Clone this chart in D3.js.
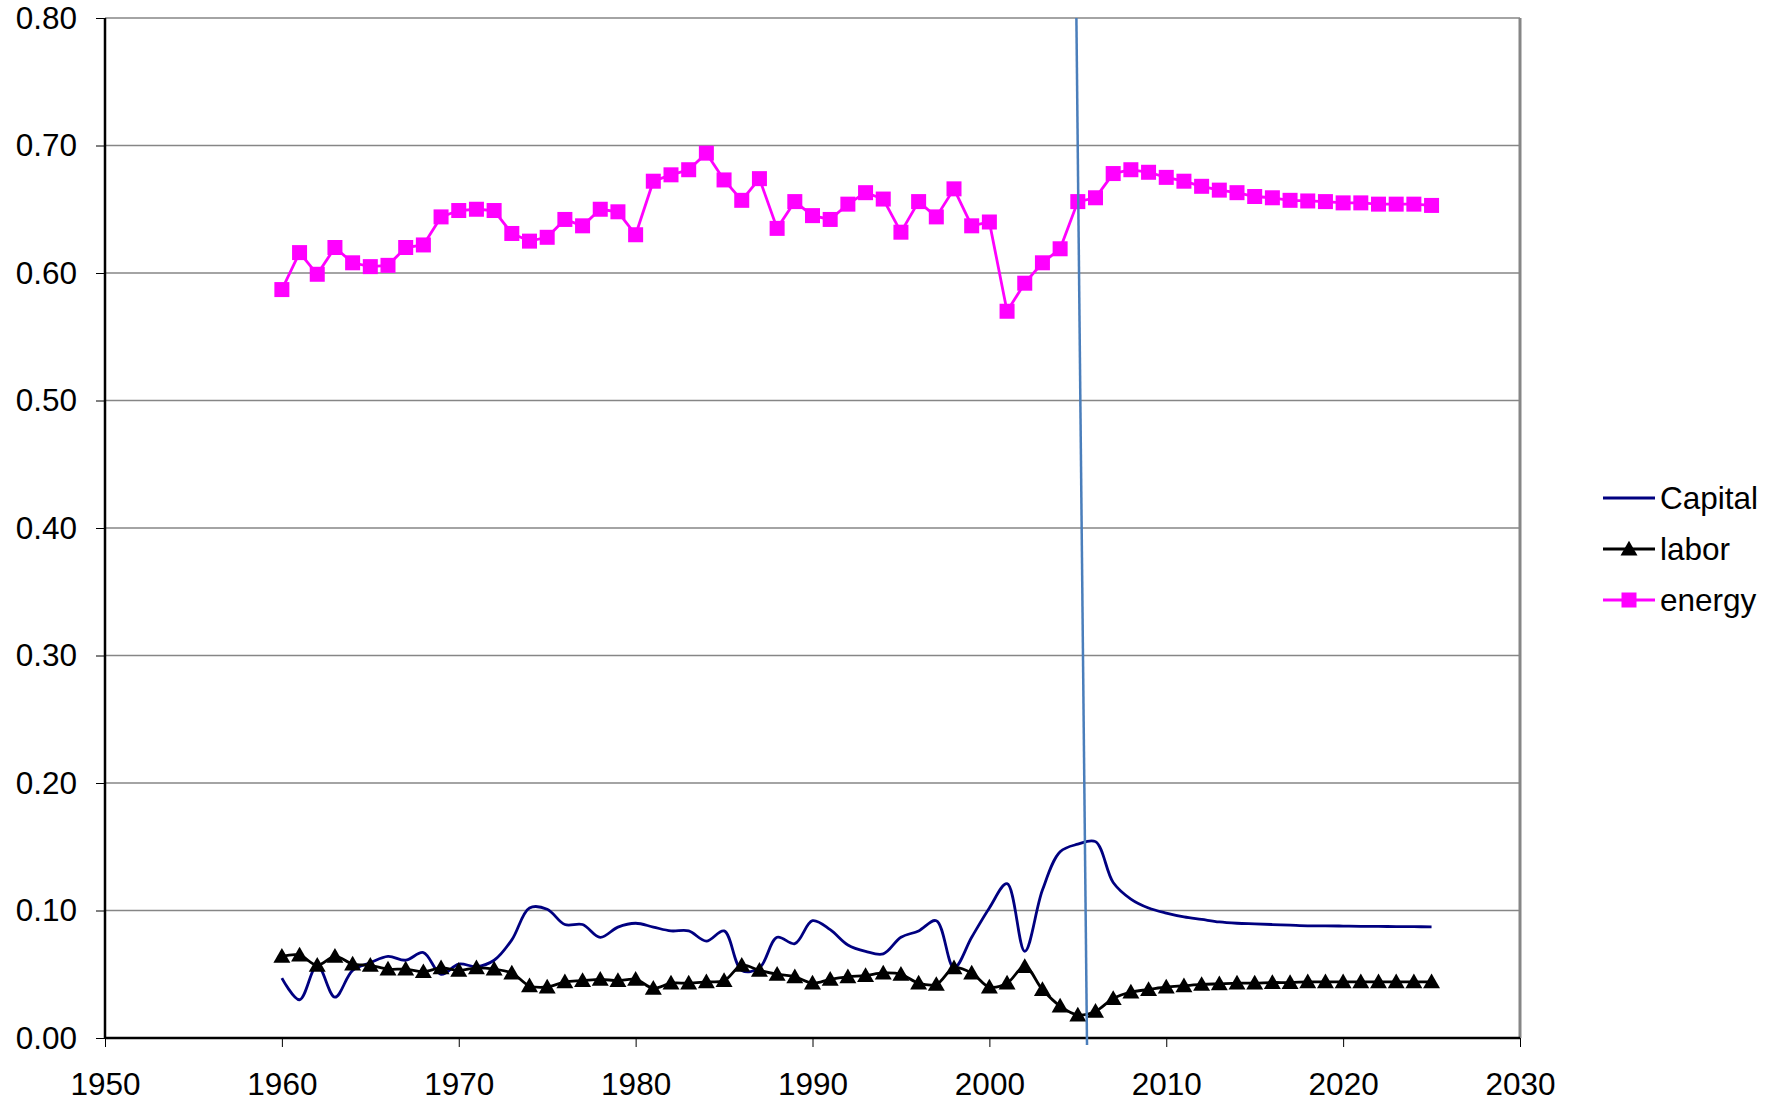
<html>
<head>
<meta charset="utf-8">
<title>Capital / labor / energy</title>
<style>
  body { margin: 0; background: #fff; }
  svg text { font-family: Arial, 'Liberation Sans', sans-serif; fill: #000; }
</style>
</head>
<body>
<div id="chart"></div>
<script src="https://cdn.jsdelivr.net/npm/d3@7"></script>
<script>
  // data
  const years = d3.range(1960, 2026)
  const capital = [0.047, 0.030, 0.057, 0.032, 0.053, 0.059, 0.064, 0.061, 0.067, 0.050,
    0.058, 0.056, 0.061, 0.077, 0.102, 0.101, 0.089, 0.089, 0.079, 0.087,
    0.090, 0.087, 0.084, 0.084, 0.076, 0.084, 0.053, 0.055, 0.079, 0.074,
    0.092, 0.085, 0.073, 0.068, 0.066, 0.079, 0.084, 0.092, 0.055, 0.079,
    0.102, 0.121, 0.068, 0.116, 0.146, 0.152, 0.154, 0.122, 0.109, 0.102,
    0.098, 0.095, 0.093, 0.091, 0.090, 0.0895, 0.089, 0.0885, 0.088, 0.088,
    0.0878, 0.0876, 0.0875, 0.0874, 0.0873, 0.0872]
  const labor = [0.064, 0.065, 0.057, 0.064, 0.058, 0.057, 0.054, 0.054, 0.052, 0.055,
    0.053, 0.055, 0.054, 0.051, 0.041, 0.040, 0.044, 0.045, 0.046, 0.045,
    0.046, 0.039, 0.043, 0.043, 0.044, 0.045, 0.057, 0.053, 0.050, 0.048,
    0.043, 0.046, 0.048, 0.049, 0.051, 0.050, 0.043, 0.042, 0.055, 0.051,
    0.040, 0.043, 0.056, 0.038, 0.025, 0.018, 0.021, 0.031, 0.036, 0.038,
    0.040, 0.041, 0.042, 0.0425, 0.043, 0.043, 0.0435, 0.0435, 0.044, 0.044,
    0.044, 0.044, 0.044, 0.044, 0.044, 0.044]
  const energy = [0.587, 0.616, 0.599, 0.620, 0.608, 0.605, 0.606, 0.620, 0.622, 0.644,
    0.649, 0.650, 0.649, 0.631, 0.625, 0.628, 0.642, 0.637, 0.650, 0.648,
    0.630, 0.672, 0.677, 0.681, 0.694, 0.673, 0.657, 0.674, 0.635, 0.656,
    0.645, 0.642, 0.654, 0.663, 0.658, 0.632, 0.656, 0.644, 0.666, 0.637,
    0.640, 0.570, 0.592, 0.608, 0.619, 0.656, 0.659, 0.678, 0.681, 0.679,
    0.675, 0.672, 0.668, 0.665, 0.663, 0.660, 0.659, 0.657, 0.6565, 0.656,
    0.655, 0.655, 0.654, 0.654, 0.654, 0.653]
  // hand-drawn marker line near 2005
  const cutYears = [2004.92, 2005.52]
  const cutValues = [0.80, -0.0055]

  const xTicks = d3.range(1950, 2031, 10)
  const yTicks = d3.range(0, 0.81, 0.1)
  const seriesNames = ["Capital", "labor", "energy"]

  //設定
  const W = 1782, H = 1105
  const margin = { left: 105, top: 18, right: 262, bottom: 67 }
  const x = d3.scaleLinear().domain([1950, 2030]).range([margin.left, W - margin.right])
  const y = d3.scaleLinear().domain([0, 0.8]).range([H - margin.bottom, margin.top])
  const fontSize = "31.5px"

  const svg = d3.select("#chart").append("svg")
    .attr("width", W)
    .attr("height", H)
  svg.append("rect").attr("width", W).attr("height", H).attr("fill", "#fff")

  //grid
  svg.append("g").selectAll("line").data(yTicks.slice(1)).join("line")
    .attr("x1", x(1950)).attr("x2", x(2030))
    .attr("y1", d => y(d)).attr("y2", d => y(d))
    .attr("stroke", "#868686").attr("stroke-width", 1.5)
  // right border
  svg.append("line")
    .attr("x1", x(2030)).attr("x2", x(2030))
    .attr("y1", y(0.8)).attr("y2", y(0))
    .attr("stroke", "#868686").attr("stroke-width", 3)

  //axes
  const yAxis = svg.append("g")
    .attr("transform", `translate(${x(1950)},0)`)
    .call(d3.axisLeft(y).tickValues(yTicks).tickFormat(d3.format(".2f")).tickSize(9).tickPadding(19))
  const xAxis = svg.append("g")
    .attr("transform", `translate(0,${y(0)})`)
    .call(d3.axisBottom(x).tickValues(xTicks).tickFormat(d3.format("d")).tickSize(9).tickPadding(26))
  for (const ax of [xAxis, yAxis]) {
    ax.select(".domain").attr("stroke", "#000").attr("stroke-width", 2.5)
    ax.selectAll(".tick line").attr("stroke", "#000").attr("stroke-width", 1)
    ax.selectAll("text").attr("font-size", fontSize).attr("font-family", "Arial, 'Liberation Sans', sans-serif").attr("fill", "#000")
  }
  xAxis.select(".domain").attr("d", `M${x(1950)},0H${x(2030)}`)
  yAxis.select(".domain").attr("d", `M0,${y(0.8)}V${y(0)}`)

  //lines
  const smooth = d3.line().x((d, i) => x(years[i])).y(d => y(d)).curve(d3.curveCatmullRom.alpha(0.5))
  const straight = d3.line().x((d, i) => x(years[i])).y(d => y(d))

  svg.append("path").datum(capital)
    .attr("d", smooth).attr("fill", "none")
    .attr("stroke", "#000080").attr("stroke-width", 2.8)

  svg.append("path").datum(labor)
    .attr("d", smooth).attr("fill", "none")
    .attr("stroke", "#000").attr("stroke-width", 2.8)
  const tri = d3.symbol().type(d3.symbolTriangle).size(125)
  svg.append("g").selectAll("path").data(labor).join("path")
    .attr("d", tri)
    .attr("transform", (d, i) => `translate(${x(years[i])},${y(d) + 1.5})`)
    .attr("fill", "#000")

  svg.append("path").datum(energy)
    .attr("d", straight).attr("fill", "none")
    .attr("stroke", "#ff00ff").attr("stroke-width", 2.8)
  svg.append("g").selectAll("rect").data(energy).join("rect")
    .attr("x", (d, i) => x(years[i]) - 7.5)
    .attr("y", d => y(d) - 7.5)
    .attr("width", 15).attr("height", 15)
    .attr("fill", "#ff00ff")

  // the vertical (slightly slanted) line
  svg.append("line")
    .attr("x1", x(cutYears[0])).attr("y1", y(cutValues[0]))
    .attr("x2", x(cutYears[1])).attr("y2", y(cutValues[1]))
    .attr("stroke", "#4a7ebb").attr("stroke-width", 2.5)

  //legend
  const legend = svg.append("g").attr("transform", "translate(1603,498)")
  const item = legend.selectAll("g").data(seriesNames).join("g")
    .attr("transform", (d, i) => `translate(0,${i * 51})`)
  item.append("line")
    .attr("x1", 0).attr("x2", 52).attr("y1", 0).attr("y2", 0)
    .attr("stroke", (d, i) => ["#000080", "#000", "#ff00ff"][i])
    .attr("stroke-width", 2.8)
  item.filter((d, i) => i == 1).append("path")
    .attr("d", tri).attr("transform", "translate(26,1.5)").attr("fill", "#000")
  item.filter((d, i) => i == 2).append("rect")
    .attr("x", 26 - 7.5).attr("y", -7.5).attr("width", 15).attr("height", 15)
    .attr("fill", "#ff00ff")
  item.append("text")
    .attr("x", 57).attr("y", 11)
    .attr("font-size", fontSize)
    .text(d => d)
</script>
</body>
</html>
